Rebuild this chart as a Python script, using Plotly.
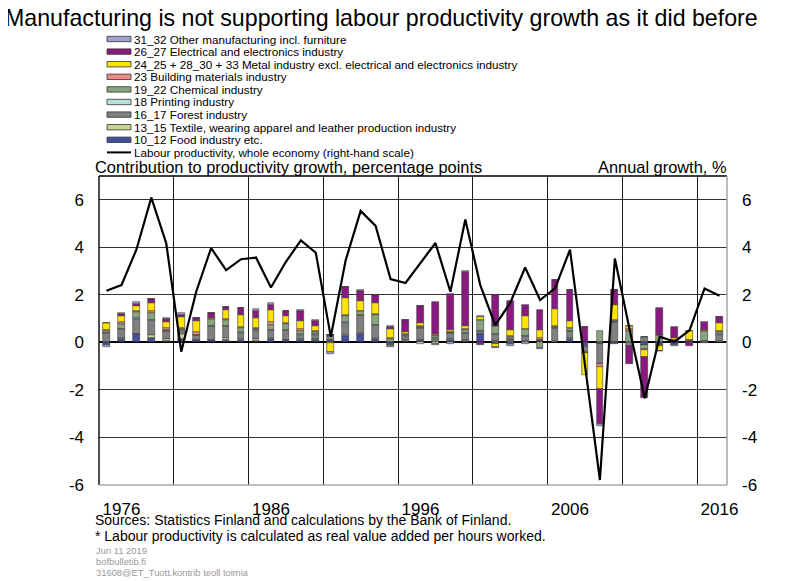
import plotly.graph_objects as go

years = list(range(1975, 2017))

food = [-0.10, 0.15, 0.35, 0.17, 0.05, 0.15, 0.08, 0.10, 0.10, 0.12, 0.05, 0.15, 0.10, 0.12, 0.10,
        0.08, 0.26, 0.37, 0.15, -0.10, 0.05, 0.12, 0.03, 0.12, 0.06, 0.34, -0.08, -0.08, 0.03, 0.05,
        0.02, 0.15, -0.14, -0.05, -0.08, 0.02, -0.10, -0.10, -0.08, 0.03, 0.02, 0.03]
textile = [0.00, 0.03, 0.02, 0.13, 0.08, 0.20, 0.03, 0.02, 0.10, 0.03, 0.10, 0.02, 0.02, 0.03, 0.03,
           -0.03, 0.04, 0.03, 0.03, 0.00, 0.04, -0.06, -0.05, 0.02, 0.06, 0.02, 0.05, 0.04, 0.03, 0.02,
           0.02, 0.02, -0.04, -0.03, 0.02, 0.00, -0.02, 0.02, 0.02, 0.00, 0.01, 0.02]
forest = [0.40, 0.38, 0.62, 0.63, 0.34, 0.14, 0.18, 0.57, 0.49, 0.25, 0.35, 0.35, 0.39, 0.17, 0.20,
          0.20, 0.53, 0.75, 0.55, -0.08, 0.14, 0.50, 0.13, 0.25, 0.27, 0.10, 0.30, 0.10, 0.20, 0.03,
          0.55, 0.30, -0.22, -0.80, 0.82, -0.14, 0.24, -0.05, -0.05, 0.05, 0.02, 0.28]
printing = [0.00, 0.02, 0.02, 0.02, 0.01, 0.02, 0.01, 0.02, 0.02, 0.02, 0.02, 0.02, 0.02, 0.05, 0.03,
            0.00, 0.02, 0.02, 0.02, 0.00, 0.02, 0.00, 0.01, 0.01, 0.02, 0.02, 0.02, 0.02, 0.02, 0.02,
            0.01, 0.02, 0.00, -0.02, 0.02, 0.00, -0.01, 0.00, 0.00, 0.00, 0.00, 0.02]
chemical = [0.10, 0.20, 0.28, 0.28, 0.04, 0.07, 0.03, 0.26, 0.25, 0.20, 0.06, 0.20, 0.26, 0.12, 0.08,
            0.05, 0.27, 0.14, 0.40, 0.15, 0.05, 0.04, 0.10, 0.02, 0.12, 0.45, 0.30, 0.06, 0.28, -0.25,
            0.06, 0.10, -0.03, 0.48, 0.05, 0.48, -0.15, 0.28, 0.08, 0.02, 0.44, 0.10]
building = [0.02, 0.07, 0.05, 0.08, 0.08, 0.03, 0.10, 0.02, 0.02, 0.04, 0.02, 0.10, 0.02, 0.08, 0.02,
            0.00, 0.03, 0.03, 0.03, 0.02, 0.04, 0.02, 0.02, 0.01, 0.03, 0.02, 0.02, 0.04, 0.02, 0.08,
            0.03, 0.02, -0.02, -0.12, 0.02, 0.06, -0.02, 0.01, 0.02, 0.00, 0.00, 0.03]
metal = [0.28, 0.28, 0.18, 0.35, 0.27, 0.46, 0.48, 0.03, 0.38, 0.49, 0.42, 0.53, 0.32, 0.35, 0.22,
         -0.38, 0.72, 0.42, 0.47, 0.38, 0.10, 0.14, 0.05, 0.11, 0.14, 0.12, -0.12, 0.28, 0.52, 0.32,
         0.70, 0.28, -0.92, -0.92, 0.66, 0.14, -0.32, -0.20, 0.07, 0.39, 0.04, 0.32]
electrical = [0.02, 0.06, 0.08, 0.15, 0.12, 0.10, 0.10, 0.22, 0.14, 0.28, 0.32, 0.21, 0.17, 0.42, 0.24,
              0.00, 0.47, 0.42, 0.34, 0.10, 0.49, 0.70, 1.34, 1.50, 2.27, -0.13, 1.30, 1.22, 0.46, 0.84,
              1.25, 1.31, 0.63, -1.50, 0.60, -0.76, -1.73, 1.12, 0.46, -0.14, 0.32, 0.28]
other = [-0.10, 0.04, 0.08, 0.02, 0.02, 0.07, 0.00, 0.00, 0.00, 0.00, 0.05, 0.06, 0.02, 0.02, 0.02,
         -0.06, 0.00, 0.02, 0.00, 0.02, 0.01, 0.00, -0.06, -0.06, 0.03, 0.05, -0.03, -0.07, -0.06, -0.03,
         0.00, 0.00, 0.00, -0.08, 0.00, 0.00, 0.00, -0.01, -0.04, 0.00, -0.02, 0.00]
productivity = [2.17, 2.41, 3.90, 6.09, 4.16, -0.39, 2.13, 3.97, 3.04, 3.50, 3.57, 2.31, 3.39, 4.29, 3.77,
                0.24, 3.46, 5.53, 4.90, 2.66, 2.50, 3.32, 4.18, 2.13, 5.17, 2.41, 0.73, 1.66, 3.15, 1.78,
                2.27, 3.90, -1.00, -5.79, 3.53, 0.50, -2.35, 0.24, 0.03, 0.52, 2.27, 1.96]

series_names = [
    "10_12 Food industry etc.",
    "13_15 Textile, wearing apparel and leather production industry",
    "16_17 Forest industry",
    "18 Printing industry",
    "19_22 Chemical industry",
    "23 Building materials industry",
    "24_25 + 28_30 + 33 Metal industry excl. electrical and electronics industry",
    "26_27 Electrical and electronics industry",
    "31_32 Other manufacturing incl. furniture",
]
series_values = [food, textile, forest, printing, chemical, building, metal, electrical, other]
series_colors = ["#454FA0", "#C8D48C", "#808080", "#B4E0E0", "#8AA57E", "#F08888",
                 "#FFE400", "#8B1A80", "#A0A0D0"]
line_name = "Labour productivity, whole economy (right-hand scale)"

x_ticks = [1976, 1986, 1996, 2006, 2016]
y_ticks = [-6, -4, -2, 0, 2, 4, 6]
y_ticktext = ["-6", "-4", "-2", "0", "2", "4", "6"]
x_grid = [1979.5, 1984.5, 1989.5, 1994.5, 1999.5, 2004.5, 2009.5, 2014.5]

# page is offset by the body margin (8 px); layout coordinates below are page pixels
OFF = 8
W, H = 800, 581
PL, PR, PT, PB = 99, 727, 176, 485  # plot box in page pixels
L, T = PL - OFF, PT - OFF
R, B = W - (PR - OFF), H - (PB - OFF)
PW, PH = PR - PL, PB - PT


def px(xp):
    return (xp - PL) / PW


def py(yp):
    return (PB - yp) / PH


FONT = "Liberation Sans, Arial, sans-serif"

fig = go.Figure()
for name, vals, col in zip(series_names, series_values, series_colors):
    fig.add_trace(go.Bar(x=years, y=vals, name=name, width=0.45,
                         marker=dict(color=col, line=dict(color="#3a3a3a", width=0.6)),
                         showlegend=False))
fig.add_trace(go.Scatter(x=years, y=productivity, name=line_name, mode="lines",
                         line=dict(color="black", width=2.2), yaxis="y2", showlegend=False))
# invisible trace to activate overlay x axis for vertical gridlines
fig.add_trace(go.Scatter(x=[1974.5, 2016.5], y=[0, 0], xaxis="x2", yaxis="y",
                         mode="markers", marker=dict(opacity=0), hoverinfo="skip", showlegend=False))

xr = [1974.5, 2016.5]
yr = [-6, 7]
fig.update_layout(
    width=W, height=H,
    margin=dict(l=L, r=R, t=T, b=B),
    paper_bgcolor="white", plot_bgcolor="white",
    barmode="relative", bargap=0,
    font=dict(family=FONT, color="black"),
    xaxis=dict(range=xr, tickvals=x_ticks, ticktext=[str(v) for v in x_ticks],
               showgrid=False, zeroline=False, ticks="", ticklabelstandoff=12,
               tickfont=dict(size=17), showline=False),
    xaxis2=dict(range=xr, overlaying="x", tickvals=x_grid, showgrid=True,
                gridcolor="#1a1a1a", gridwidth=1.4, showticklabels=False,
                zeroline=False, ticks="", showline=False),
    yaxis=dict(range=yr, tickvals=y_ticks, ticktext=y_ticktext, showgrid=True, gridcolor="#333333",
               gridwidth=1.4, zeroline=True, zerolinecolor="black", zerolinewidth=1.6,
               ticks="", ticklabelstandoff=14, tickfont=dict(size=17), showline=False),
    yaxis2=dict(range=yr, tickvals=y_ticks, ticktext=y_ticktext, overlaying="y", side="right",
                showgrid=False, zeroline=False, ticks="", ticklabelstandoff=14,
                tickfont=dict(size=17), showline=False),
)

shapes = [
    dict(type="line", xref="paper", yref="paper", x0=0, x1=1, y0=1, y1=1,
         line=dict(color="black", width=1.4)),
    dict(type="line", xref="paper", yref="paper", x0=0, x1=0, y0=0, y1=1,
         line=dict(color="black", width=1.4)),
    dict(type="line", xref="paper", yref="paper", x0=0, x1=1, y0=0, y1=0,
         line=dict(color="#aaaaaa", width=1.6)),
    dict(type="line", xref="paper", yref="paper", x0=1, x1=1, y0=0, y1=1,
         line=dict(color="#aaaaaa", width=1.6)),
]
annotations = []

# manual legend (reverse order, line last)
leg_x0, leg_x1 = 107, 131
leg_y0, leg_dy = 39, 12.6
legend_items = list(zip(series_names, series_colors))[::-1]
for i, (name, col) in enumerate(legend_items):
    yc = leg_y0 + i * leg_dy
    shapes.append(dict(type="rect", xref="paper", yref="paper",
                       x0=px(leg_x0), x1=px(leg_x1), y0=py(yc + 2.7), y1=py(yc - 2.7),
                       fillcolor=col, line=dict(color="#333333", width=0.8)))
    annotations.append(dict(text=name, xref="paper", yref="paper", x=px(leg_x1 + 0.5), y=py(yc),
                            xanchor="left", yanchor="middle", showarrow=False,
                            font=dict(size=11.7, family=FONT)))
yc = leg_y0 + len(legend_items) * leg_dy
shapes.append(dict(type="line", xref="paper", yref="paper", x0=px(leg_x0), x1=px(leg_x1),
                   y0=py(yc), y1=py(yc), line=dict(color="black", width=2)))
annotations.append(dict(text=line_name, xref="paper", yref="paper", x=px(leg_x1 + 0.5), y=py(yc),
                        xanchor="left", yanchor="middle", showarrow=False,
                        font=dict(size=11.7, family=FONT)))

texts = [
    ("Manufacturing is not supporting labour productivity growth as it did before", 4, 18, "left", 23.2, "black"),
    ("Contribution to productivity growth, percentage points", 94, 167, "left", 16.4, "black"),
    ("Annual growth, %", 727, 167, "right", 16.4, "black"),
    ("Sources: Statistics Finland and calculations by the Bank of Finland.", 94, 520, "left", 14, "black"),
    ("* Labour productivity is calculated as real value added per hours worked.", 94, 536, "left", 14, "black"),
    ("Jun 11 2019", 95, 550, "left", 9.4, "#999999"),
    ("bofbulletib.fi", 95, 561, "left", 9.4, "#999999"),
    ("31608@ET_Tuott.kontrib teoll toimia", 95, 572, "left", 9.4, "#999999"),
]
for txt, x, y, anchor, size, color in texts:
    annotations.append(dict(text=txt, xref="paper", yref="paper", x=px(x), y=py(y),
                            xanchor=anchor, yanchor="middle", showarrow=False, borderpad=0,
                            font=dict(size=size, family=FONT, color=color)))

fig.update_layout(shapes=shapes, annotations=annotations)
fig.write_html("out.html")
